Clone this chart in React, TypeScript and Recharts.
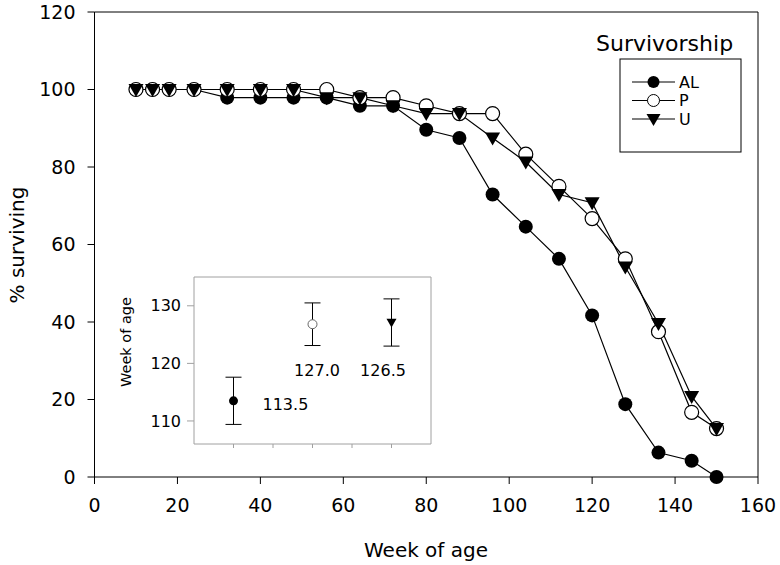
import React from 'react';
import {
  LineChart,
  Line,
  XAxis,
  YAxis,
  ReferenceLine,
  ScatterChart,
  Scatter,
  ErrorBar,
} from 'recharts';

// survivorship curves, % surviving per week of age
const weeks = [10, 14, 18, 24, 32, 40, 48, 56, 64, 72, 80, 88, 96, 104, 112, 120, 128, 136, 144, 150];
const alSurviving = [100, 100, 100, 100, 97.9, 97.9, 97.9, 97.9, 95.8, 95.8, 89.6, 87.5, 72.9, 64.6, 56.3, 41.7, 18.8, 6.3, 4.2, 0];
const pSurviving = [100, 100, 100, 100, 100, 100, 100, 100, 97.9, 97.9, 95.8, 93.8, 93.8, 83.3, 75, 66.7, 56.3, 37.5, 16.7, 12.5];
const uSurviving = [100, 100, 100, 100, 100, 100, 100, 97.9, 97.9, 95.8, 93.8, 93.8, 87.5, 81.3, 72.9, 70.8, 54.2, 39.6, 20.8, 12.5];

const xTicks = [0, 20, 40, 60, 80, 100, 120, 140, 160];
const yTicks = [0, 20, 40, 60, 80, 100, 120];

// inset: mean lifespan (week of age) with error bars
const insetGroups = ['AL', 'P', 'U'];
const insetPos = [1, 3, 5];
const insetMean = [113.5, 126.8, 127.1];
const insetErr = [4.1, 3.7, 4.1];
const insetLabels = ['113.5', '127.0', '126.5'];
const insetYTicks = [110, 120, 130];
const insetXTicks = [1, 2, 3, 4, 5];

const FONT = 'DejaVu Sans';

const data = weeks.map((week, i) => ({
  week,
  AL: alSurviving[i],
  P: pSurviving[i],
  U: uSurviving[i],
}));

const insetData = insetGroups.map((g, i) => [
  { x: insetPos[i], y: insetMean[i], err: insetErr[i], label: insetLabels[i] },
]);

const tri = (cx: number, cy: number, w: number) => {
  const h = w * 0.87;
  return `${cx - w / 2},${cy - h * 0.42} ${cx + w / 2},${cy - h * 0.42} ${cx},${cy + h * 0.58}`;
};

const FilledDot = (p: any) => <circle key={`al-${p.index}`} cx={p.cx} cy={p.cy} r={7} fill="#000" />;
const OpenDot = (p: any) => (
  <circle key={`p-${p.index}`} cx={p.cx} cy={p.cy} r={7} fill="#fff" stroke="#000" strokeWidth={1.2} />
);
const TriDot = (p: any) => <polygon key={`u-${p.index}`} points={tri(p.cx, p.cy, 15)} fill="#000" />;

const SurvivorLegend = () => (
  <svg width={170} height={140}>
    <text x={6} y={23} fontSize={22} fontFamily={FONT} dominantBaseline="central" fill="#000">
      Survivorship
    </text>
    <rect x={30} y={39} width={121} height={93} fill="#fff" stroke="#000" strokeWidth={1} />
    {insetGroups.map((g, i) => {
      const y = 62 + i * 18.5;
      return (
        <g key={g}>
          <line x1={42} x2={85} y1={y} y2={y} stroke="#000" strokeWidth={1.2} />
          {i === 0 && <circle cx={63.5} cy={y} r={6} fill="#000" />}
          {i === 1 && <circle cx={63.5} cy={y} r={6} fill="#fff" stroke="#000" />}
          {i === 2 && <polygon points={tri(63.5, y, 14)} fill="#000" />}
          <text x={89} y={y} fontSize={16} fontFamily={FONT} dominantBaseline="central" fill="#000">
            {g}
          </text>
        </g>
      );
    })}
  </svg>
);

// marker + value label for the inset groups
const insetShape = (kind: number, dx: number, dy: number, anchor: string) => (p: any) => {
  const { cx, cy, payload } = p;
  return (
    <g>
      {kind === 0 && <circle cx={cx} cy={cy} r={4.5} fill="#000" />}
      {kind === 1 && <circle cx={cx} cy={cy} r={4.5} fill="#fff" stroke="#666" strokeWidth={1} />}
      {kind === 2 && <polygon points={tri(cx, cy, 10)} fill="#000" />}
      <text
        x={cx + dx}
        y={cy + dy}
        fontSize={16}
        fontFamily={FONT}
        textAnchor={anchor as any}
        dominantBaseline="central"
        fill="#000"
      >
        {payload.label}
      </text>
    </g>
  );
};

const insetShapes = [
  insetShape(0, 29, 4, 'start'),
  insetShape(1, 4.5, 46, 'middle'),
  insetShape(2, -8.5, 48.5, 'middle'),
];

export default function App() {
  return (
    <div style={{ position: 'absolute', left: 0, top: 0, width: 780, height: 565, background: '#fff', fontFamily: FONT }}>
      <LineChart width={780} height={565} data={data} margin={{ top: 12, right: 22, left: 0, bottom: 0 }}>
        <XAxis
          dataKey="week"
          type="number"
          domain={[0, 160]}
          ticks={xTicks}
          height={88}
          stroke="#000"
          tickSize={7}
          tickMargin={15}
          tick={{ fontSize: 19, fill: '#000', fontFamily: FONT }}
          label={{
            content: () => (
              <text x={426} y={550} fontSize={20} fontFamily={FONT} textAnchor="middle" dominantBaseline="central" fill="#000">
                Week of age
              </text>
            ),
          }}
        />
        <YAxis
          type="number"
          domain={[0, 120]}
          ticks={yTicks}
          width={94.5}
          stroke="#000"
          tickSize={7}
          tickMargin={12}
          tick={{ fontSize: 19, fill: '#000', fontFamily: FONT }}
          label={{
            content: () => (
              <text
                x={17}
                y={245}
                transform="rotate(-90 17 245)"
                fontSize={20}
                fontFamily={FONT}
                textAnchor="middle"
                dominantBaseline="central"
                fill="#000"
              >
                % surviving
              </text>
            ),
          }}
        />
        <ReferenceLine y={120} stroke="#000" />
        <ReferenceLine x={160} stroke="#000" />
        <Line dataKey="AL" stroke="#000" strokeWidth={1.2} dot={FilledDot} isAnimationActive={false} />
        <Line dataKey="P" stroke="#000" strokeWidth={1.2} dot={OpenDot} isAnimationActive={false} />
        <Line dataKey="U" stroke="#000" strokeWidth={1.2} dot={TriDot} isAnimationActive={false} />
      </LineChart>

      <div style={{ position: 'absolute', left: 590, top: 20 }}>
        <SurvivorLegend />
      </div>

      <div style={{ position: 'absolute', left: 100, top: 270 }}>
        <ScatterChart width={340} height={185} margin={{ top: 7, right: 9, left: 0, bottom: 0 }}>
          <XAxis
            dataKey="x"
            type="number"
            domain={[0, 6]}
            ticks={insetXTicks}
            height={11}
            stroke="#a0a0a0"
            tickSize={4}
            tickFormatter={() => ''}
          />
          <YAxis
            dataKey="y"
            type="number"
            domain={[106, 135]}
            allowDataOverflow
            ticks={insetYTicks}
            width={94}
            stroke="#a0a0a0"
            tickSize={7}
            tickMargin={6}
            tick={{ fontSize: 16, fill: '#000', fontFamily: FONT }}
            label={{
              content: () => (
                <text
                  x={26}
                  y={72}
                  transform="rotate(-90 26 72)"
                  fontSize={14.5}
                  fontFamily={FONT}
                  textAnchor="middle"
                  dominantBaseline="central"
                  fill="#000"
                >
                  Week of age
                </text>
              ),
            }}
          />
          <ReferenceLine y={135} stroke="#a0a0a0" />
          <ReferenceLine x={6} stroke="#a0a0a0" />
          {insetGroups.map((g, i) => (
            <Scatter key={g} name={g} data={insetData[i]} shape={insetShapes[i]} isAnimationActive={false}>
              <ErrorBar dataKey="err" direction="y" width={8} stroke="#000" strokeWidth={1} />
            </Scatter>
          ))}
        </ScatterChart>
      </div>
    </div>
  );
}
